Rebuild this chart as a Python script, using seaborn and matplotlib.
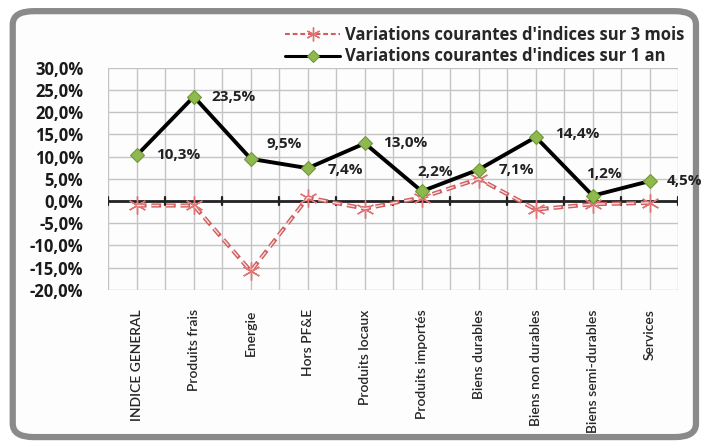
import numpy as np
import pandas as pd
import matplotlib
matplotlib.use('Agg')
import matplotlib.pyplot as plt
import seaborn as sns
from matplotlib.patches import FancyBboxPatch
from matplotlib.lines import Line2D
from matplotlib.ticker import FuncFormatter, MultipleLocator

categories = ['INDICE GENERAL', 'Produits frais', 'Energie', 'Hors PF&E', 'Produits locaux',
              'Produits importés', 'Biens durables', 'Biens non durables', 'Biens semi-durables', 'Services']
var_3_mois = [-1.0, -1.0, -15.8, 0.8, -1.7, 0.8, 5.0, -1.9, -0.7, -0.4]
var_1_an = [10.3, 23.5, 9.5, 7.4, 13.0, 2.2, 7.1, 14.4, 1.2, 4.5]
label_3_mois = "Variations courantes d'indices sur 3 mois"
label_1_an = "Variations courantes d'indices sur 1 an"

# offsets of the data labels (points)
label_offsets = [(14, 0), (13, 0), (11, 11), (14, -1), (13, 0), (-3, 14), (14, 0), (14, 2), (-5, 16), (12, 0)]

sns.set_style('white')
plt.rcParams['font.family'] = ['Open Sans', 'DejaVu Sans']
plt.rcParams['lines.scale_dashes'] = False

df = pd.DataFrame({'cat': categories, 'm3': var_3_mois, 'a1': var_1_an})
df['x'] = np.arange(len(df))

fig = plt.figure(figsize=(7.08, 4.46), dpi=100)
fig.patch.set_facecolor('white')

# rounded grey frame around the chart
frame = FancyBboxPatch((0.018, 0.02), 0.965, 0.955, boxstyle='round,pad=0,rounding_size=0.03',
                       transform=fig.transFigure, facecolor='#fdfdfd', edgecolor='#8a8a8a',
                       linewidth=4.5, zorder=-5)
fig.patches.append(frame)

ax = fig.add_axes([0.153, 0.350, 0.805, 0.498])
ax.set_zorder(2)
ax.set_facecolor('none')

dash = (0, (7, 3.5))
sns.lineplot(data=df, x='x', y='m3', ax=ax, color='#d05e5e', linewidth=3.0,
             linestyle=dash, marker=(6, 2, 0), markersize=13,
             markeredgecolor='#e07474', markeredgewidth=1.0, legend=False, zorder=4)
# pale core of the dashes (hollow look)
ax.plot(df['x'], df['m3'], color='#f6dede', linewidth=1.0, linestyle=(0, (5.6, 4.9)), zorder=4.5)
sns.lineplot(data=df, x='x', y='a1', ax=ax, color='black', linewidth=2.8,
             marker='D', markersize=7, markerfacecolor='#8fb84e', markeredgecolor='#6f9a36',
             markeredgewidth=0.8, legend=False, zorder=5)

for xi, v, (dx, dy) in zip(df['x'], var_1_an, label_offsets):
    ax.annotate(f'{v:.1f}%'.replace('.', ','), (xi, v), xytext=(dx, dy), textcoords='offset points',
                ha='left', va='center', fontsize=11, fontweight='bold', color='#222222', zorder=6)

ax.set_xlim(-0.5, len(categories) - 0.5)
ax.set_ylim(-20, 30)
ax.yaxis.set_major_locator(MultipleLocator(5))
ax.yaxis.set_major_formatter(FuncFormatter(lambda v, p: f'{v:.1f}%'.replace('.', ',')))
ax.set_xticks(df['x'])
ax.set_xticklabels(categories, rotation=90, fontsize=10, va='top', family=['Lato', 'DejaVu Sans'],
                   fontweight='semibold')
ax.tick_params(axis='x', length=0, pad=14)
ax.tick_params(axis='y', length=6, width=1, color='#c4c4c4', pad=12, labelsize=12)
for t in ax.get_yticklabels():
    t.set_fontweight('bold')
    t.set_color('#1a1a1a')
ax.set_xlabel('')
ax.set_ylabel('')

# grid: horizontal every 5%, vertical every half category
for y in np.arange(-20, 31, 5):
    ax.axhline(y, color='#c4c4c4', linewidth=1, zorder=1)
for xv in np.arange(-0.5, len(categories), 0.5):
    ax.axvline(xv, color='#c4c4c4', linewidth=1, zorder=1)
for s in ax.spines.values():
    s.set_visible(False)

# zero axis with category ticks
ax.axhline(0, color='#222222', linewidth=2, zorder=3)
for xv in np.arange(-0.5, len(categories), 1.0):
    ax.plot([xv, xv], [-1.0, 1.0], color='#222222', linewidth=1.6, zorder=3)

handles = [
    Line2D([], [], color='#d05e5e', linewidth=1.5, linestyle=(0, (3.5, 2)), marker=(6, 2, 0),
           markersize=10, markeredgecolor='#e07474', markeredgewidth=1.0),
    Line2D([], [], color='black', linewidth=2.2, marker='D', markersize=6,
           markerfacecolor='#8fb84e', markeredgecolor='#6f9a36', markeredgewidth=0.8),
]
fig.legend(handles, [label_3_mois, label_1_an], loc='upper right', bbox_to_anchor=(0.988, 0.975),
           frameon=False, handlelength=3.3, labelspacing=0.2, handletextpad=0.3,
           prop={'weight': 'bold', 'size': 12})

fig.savefig('out.png', dpi=100)
